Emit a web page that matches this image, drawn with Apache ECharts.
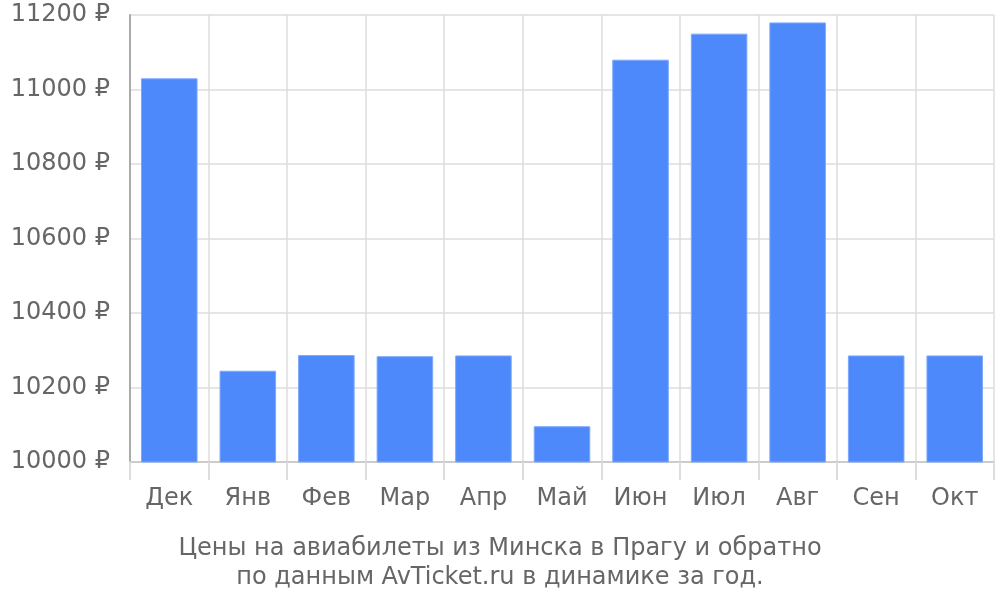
<!DOCTYPE html>
<html><head><meta charset="utf-8">
<script src="https://cdn.jsdelivr.net/npm/echarts@6/dist/echarts.min.js"></script>
<style>html,body{margin:0;padding:0;background:#fff}#c{width:1000px;height:600px}</style>
</head><body><div id="c"></div>
<script>
const categories = ['Дек','Янв','Фев','Мар','Апр','Май','Июн','Июл','Авг','Сен','Окт'];
const prices = [11030, 10245, 10287, 10284, 10286, 10096, 11080, 11150, 11180, 10286, 10286];
const titleLines = ['Цены на авиабилеты из Минска в Прагу и обратно', 'по данным AvTicket.ru в динамике за год.'];

const chart = echarts.init(document.getElementById('c'), null, {renderer: 'canvas'});
chart.setOption({
  animation: false,
  textStyle: {fontFamily: 'DejaVu Sans'},
  title: {
    text: titleLines.join('\n'),
    left: 'center', top: 529,
    textStyle: {fontFamily: 'DejaVu Sans', fontSize: 24, fontWeight: 'normal', color: '#666', lineHeight: 29}
  },
  grid: {left: 130, right: 6, top: 15, bottom: 138, containLabel: false},
  xAxis: {
    type: 'category', data: categories,
    axisLine: {show: true, lineStyle: {color: '#ccc', width: 2}},
    axisTick: {show: true, length: 18, interval: 0, lineStyle: {color: '#ddd', width: 2}},
    splitLine: {show: true, interval: 0, lineStyle: {color: '#ddd', width: 1.5}},
    axisLabel: {fontSize: 24, color: '#666', margin: 25, fontFamily: 'DejaVu Sans'}
  },
  yAxis: {
    type: 'value', min: 10000, max: 11200, interval: 200,
    axisLine: {show: true, lineStyle: {color: '#aaa', width: 2}},
    axisTick: {show: false},
    splitLine: {show: true, lineStyle: {color: '#ddd', width: 1.5}},
    axisLabel: {fontSize: 24, color: '#666', margin: 20, fontFamily: 'DejaVu Sans', formatter: v => v + ' ₽'}
  },
  series: [{
    type: 'bar', data: prices, barWidth: '72%',
    itemStyle: {color: '#4d89fb', borderColor: '#7ea8fc', borderWidth: 1}
  }]
});
</script></body></html>
